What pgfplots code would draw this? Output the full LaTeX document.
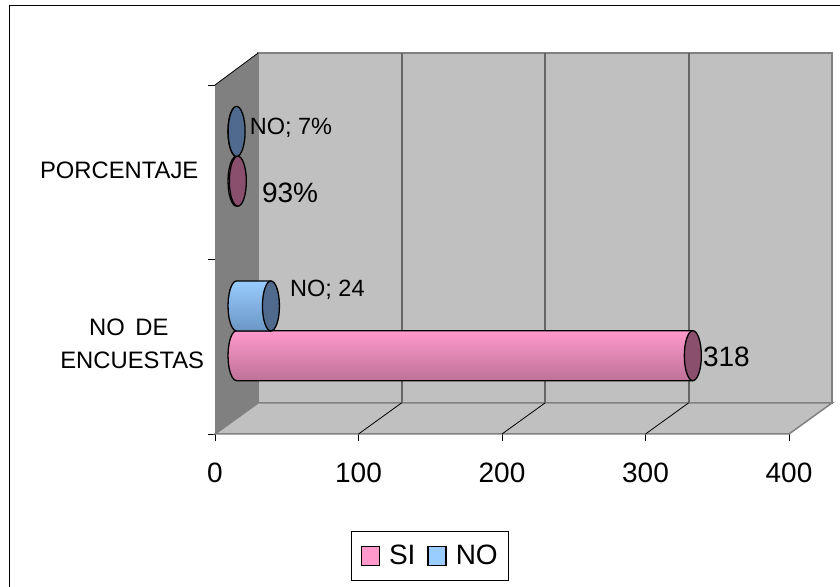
\documentclass[border=0pt]{standalone}
\usepackage{fontspec}
\setmainfont{Liberation Sans}
\usepackage{pgfplots}
\pgfplotsset{compat=1.18}
\definecolor{siface}{HTML}{FF99CC}
\definecolor{siface2}{HTML}{BE7298}
\definecolor{sicapc}{HTML}{8A4F6D}
\definecolor{noface}{HTML}{99CCFF}
\definecolor{noface2}{HTML}{6A96C4}
\definecolor{nocapc}{HTML}{4F6A8C}
\definecolor{wallside}{HTML}{808080}
\definecolor{wallback}{HTML}{C0C0C0}
\definecolor{gridc}{HTML}{666666}
% Flat far end of a cylinder
\pgfdeclareplotmark{sicap}{\path[draw=black,line width=1.3pt,fill=sicapc] (0pt,0pt) ellipse[x radius=8.5pt,y radius=25pt];}
\pgfdeclareplotmark{nocap}{\path[draw=black,line width=1.3pt,fill=nocapc] (0pt,0pt) ellipse[x radius=8.5pt,y radius=25pt];}
\newcommand{\fs}[1]{\fontsize{#1}{#1}\selectfont}
\pgfplotsset{
  body/.style n args={2}{draw=black,line width=1.3pt,line join=round,top color=#1,bottom color=#2},
  lab/.style n args={3}{nodes near coords style={anchor=west,inner sep=0pt,text=black,font=\fs{#1},xshift=#2,yshift=#3}},
}
\begin{document}
\begin{tikzpicture}[x=1pt,y=1pt]
% Frame of the chart area
\draw[black,line width=1pt] (9,-10) -- (9,580.5) -- (850,580.5);
% Walls, floor, scale and legend
\begin{axis}[
  name=main,
  at={(215pt,152pt)},anchor=south west,
  scale only axis,width=574pt,height=349pt,
  xmin=0,xmax=400,ymin=0,ymax=2,
  clip=false,
  axis x line*=bottom,axis y line*=left,
  axis line style={black,line width=1pt},
  tick align=outside,major tick length=7pt,
  tick style={black,line width=0.8pt},
  xtick={0,100,200,300,400},ytick={0,1,2},yticklabels={},
  xticklabel style={font=\fs{28},yshift=-18pt},
  /pgf/number format/assume math mode=true,
  legend style={at={(rel axis cs:0.375,-0.349)},anchor=center,draw=black,line width=0.8pt,
    legend columns=2,font=\fs{28},inner xsep=9pt,inner ysep=12pt,
    /tikz/every odd column/.style={column sep=7pt},
    /tikz/every even column/.style={column sep=10pt},
    cells={anchor=west}},
  legend image code/.code={\draw[#1,line width=1.3pt] (0pt,-9.5pt) rectangle (18pt,9.5pt);},
]
\addlegendimage{fill=siface,draw=black}
\addlegendentry{SI}
\addlegendimage{fill=noface,draw=black}
\addlegendentry{NO}
\addplot[fill=wallback,draw=wallside,line width=1.5pt] coordinates {(30,0.178)(430,0.178)(430,2.183)(30,2.183)} -- cycle;
\addplot[fill=wallside,draw=none] coordinates {(0,0)(30,0.178)(30,2.183)(0,2)} -- cycle;
\addplot[black,line width=0.8pt] coordinates {(0,2)(30,2.183)};
\addplot[fill=wallback,draw=wallside,line width=1.5pt] coordinates {(0,0)(400,0)(430,0.178)(30,0.178)} -- cycle;
\addplot[gridc,line width=2pt] coordinates {(130,0.178)(130,2.183)};
\addplot[gridc,line width=2pt] coordinates {(230,0.178)(230,2.183)};
\addplot[gridc,line width=2pt] coordinates {(330,0.178)(330,2.183)};
\addplot[black,line width=0.8pt] coordinates {(100,0)(130,0.178)};
\addplot[black,line width=0.8pt] coordinates {(200,0)(230,0.178)};
\addplot[black,line width=0.8pt] coordinates {(300,0)(330,0.178)};
\node[font=\fs{23.8},anchor=east,inner sep=0pt] at (axis cs:-11.5,1.51) {PORCENTAJE};
\node[font=\fs{23.8},anchor=center,inner sep=0pt] at (axis cs:-60,0.61) {NO\, DE};
\node[font=\fs{23.8},anchor=east,inner sep=0pt] at (axis cs:-7.5,0.425) {ENCUESTAS};
\end{axis}
% Cylinders, set back to mid-depth of the box; each outline runs round the rounded near end
\begin{axis}[
  at={(236.5pt,167.5pt)},anchor=south west,
  scale only axis,width=574pt,height=349pt,
  xmin=0,xmax=400,ymin=0,ymax=2,
  clip=false,hide axis,
]
\addplot[body={siface}{siface2}] coordinates {(318,.5033)(0,.5033)(-1.53,.4984)(-2.96,.4841)(-4.19,.4613)(-5.13,.4317)(-5.72,.3971)(-5.92,.36)(-5.72,.3229)(-5.13,.2883)(-4.19,.2587)(-2.96,.2359)(-1.53,.2216)(0,.2167)(318,.2167)} -- cycle;
\addplot[body={siface}{siface2}] coordinates {(0.93,1.5033)(0,1.5033)(-1.53,1.4984)(-2.96,1.4841)(-4.19,1.4613)(-5.13,1.4317)(-5.72,1.3971)(-5.92,1.36)(-5.72,1.3229)(-5.13,1.2883)(-4.19,1.2587)(-2.96,1.2359)(-1.53,1.2216)(0,1.2167)(0.93,1.2167)} -- cycle;
\addplot[only marks,mark=sicap,nodes near coords={318},lab={28}{10pt}{-1pt}] coordinates {(318,0.36)};
\addplot[only marks,mark=sicap,nodes near coords={93\%},lab={28}{24pt}{-12pt}] coordinates {(0.93,1.36)};
\addplot[body={noface}{noface2}] coordinates {(24,.7883)(0,.7883)(-1.53,.7834)(-2.96,.7691)(-4.19,.7463)(-5.13,.7167)(-5.72,.6821)(-5.92,.645)(-5.72,.6079)(-5.13,.5733)(-4.19,.5437)(-2.96,.5209)(-1.53,.5066)(0,.5017)(24,.5017)} -- cycle;
\addplot[body={noface}{noface2}] coordinates {(0.07,1.7883)(0,1.7883)(-1.53,1.7834)(-2.96,1.7691)(-4.19,1.7463)(-5.13,1.7167)(-5.72,1.6821)(-5.92,1.645)(-5.72,1.6079)(-5.13,1.5733)(-4.19,1.5437)(-2.96,1.5209)(-1.53,1.5066)(0,1.5017)(0.07,1.5017)} -- cycle;
\addplot[only marks,mark=nocap,nodes near coords={NO; 24},lab={23.5}{19pt}{16pt}] coordinates {(24,0.645)};
\addplot[only marks,mark=nocap,nodes near coords={NO; 7\%},lab={23.5}{13pt}{4pt}] coordinates {(0.07,1.645)};
\end{axis}
\pgfresetboundingbox
\useasboundingbox (0,0) rectangle (840,586);
\end{tikzpicture}
\end{document}
